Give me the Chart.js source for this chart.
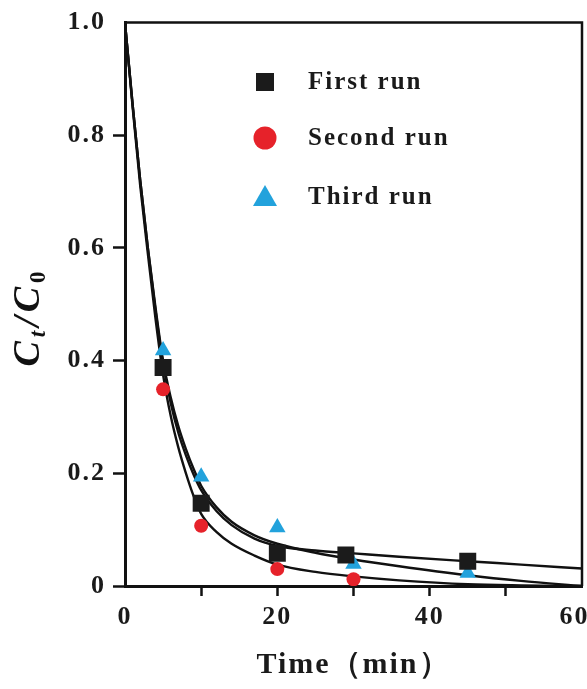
<!DOCTYPE html>
<html>
<head>
<meta charset="utf-8">
<script src="https://cdn.jsdelivr.net/npm/chart.js@4.4.1/dist/chart.umd.min.js"></script>
<style>
  html, body { margin: 0; padding: 0; background: #fff; }
  #wrap { width: 587px; height: 689px; }
</style>
</head>
<body>
<div id="wrap"><canvas id="c" width="587" height="689"></canvas></div>
<script>
// measured points (time in min, Ct/C0)
const timeFirst = [5, 10, 20, 29, 45];
const valFirst = [0.388, 0.147, 0.058, 0.055, 0.044];
const timeSecond = [5, 10, 20, 30];
const valSecond = [0.349, 0.107, 0.030, 0.012];
const timeThird = [5, 10, 20, 30, 45];
const valThird = [0.418, 0.194, 0.104, 0.039, 0.023];

// fitted curves
const fitTime = [0, 1, 2, 3, 4, 5, 6, 7, 8, 9, 10, 12, 14, 17, 20, 25, 30, 36, 45, 52, 60];
const fitFirst = [1, 0.855, 0.72, 0.60, 0.49, 0.395, 0.325, 0.272, 0.232, 0.198, 0.17, 0.133, 0.108, 0.084, 0.071, 0.063, 0.058, 0.052, 0.044, 0.038, 0.031];
const fitSecond = [1, 0.85, 0.71, 0.59, 0.475, 0.375, 0.302, 0.246, 0.2, 0.16, 0.128, 0.096, 0.075, 0.054, 0.038, 0.025, 0.017, 0.010, 0.003, 0.001, 0];
const fitThird = [1, 0.855, 0.72, 0.60, 0.495, 0.40, 0.335, 0.284, 0.243, 0.208, 0.178, 0.14, 0.114, 0.090, 0.075, 0.059, 0.047, 0.035, 0.019, 0.009, 0];

const xTicks = [0, 10, 20, 30, 40, 50, 60];
const xLabels = ['0', '', '20', '', '40', '', '60\u2002'];
const yLabels = ['0', '0.2', '0.4', '0.6', '0.8', '1.0'];

const serif = '"Liberation Serif", "Times New Roman", serif';

function pts (xs, ys) {
  return xs.map((x, i) => ({ x: x, y: ys[i] }));
}

function fitLine (data) {
  return {
    type: 'line',
    data: data,
    showLine: true,
    borderColor: '#111',
    borderWidth: 2.4,
    pointRadius: 0,
    fill: false,
    cubicInterpolationMode: 'monotone'
  };
}

// wider letter spacing like the scanned figure
const spacing = {
  id: 'spacing',
  beforeLayout (chart) { chart.ctx.letterSpacing = '2px'; },
  beforeDraw (chart) { chart.ctx.letterSpacing = '2px'; }
};

// top/right frame, y title with subscripts, legend in plot
const extras = {
  id: 'extras',
  afterDraw (chart) {
    const ctx = chart.ctx;
    const a = chart.chartArea;
    ctx.save();
    ctx.strokeStyle = '#111';
    ctx.lineWidth = 2.5;
    ctx.beginPath();
    ctx.moveTo(a.left, a.top);
    ctx.lineTo(a.right, a.top);
    ctx.lineTo(a.right, a.bottom);
    ctx.stroke();

    // y title  Ct/C0
    ctx.fillStyle = '#111';
    ctx.letterSpacing = '1px';
    const parts = [
      { t: 'C', f: 'italic bold 38px ' + serif, dy: 0 },
      { t: 't', f: 'italic bold 23px ' + serif, dy: 6 },
      { t: '/', f: 'italic bold 38px ' + serif, dy: 0 },
      { t: 'C', f: 'italic bold 38px ' + serif, dy: 0 },
      { t: '0', f: 'bold 23px ' + serif, dy: 6 }
    ];
    let w = 0;
    parts.forEach(p => { ctx.font = p.f; p.w = ctx.measureText(p.t).width + 3; w += p.w; });
    ctx.translate(39, 317);
    ctx.rotate(-Math.PI / 2);
    ctx.textBaseline = 'alphabetic';
    let x = -w / 2;
    parts.forEach(p => { ctx.font = p.f; ctx.fillText(p.t, x, p.dy); x += p.w; });
    ctx.restore();

    // legend
    ctx.save();
    ctx.letterSpacing = '2px';
    ctx.font = 'bold 25px ' + serif;
    ctx.textBaseline = 'middle';
    const rows = [82, 138, 197];
    chart.data.datasets.forEach((ds, i) => {
      if (!ds.label) return;
      const y = rows[i];
      const cx = 265;
      ctx.fillStyle = ds.backgroundColor;
      ctx.beginPath();
      if (ds.pointStyle === 'rect') {
        ctx.rect(cx - 9, y - 9, 18, 18);
      } else if (ds.pointStyle === 'circle') {
        ctx.arc(cx, y, 11.5, 0, Math.PI * 2);
      } else {
        ctx.moveTo(cx, y - 12);
        ctx.lineTo(cx + 12, y + 9);
        ctx.lineTo(cx - 12, y + 9);
        ctx.closePath();
      }
      ctx.fill();
      ctx.fillStyle = '#1a1a1a';
      ctx.fillText(ds.label, 308, y + 1);
    });
    ctx.restore();
  }
};

const chart = new Chart(document.getElementById('c'), {
  type: 'scatter',
  data: {
    datasets: [
      {
        label: 'First run',
        data: pts(timeFirst, valFirst),
        pointStyle: 'rect',
        pointRadius: 12,
        backgroundColor: '#1b1b1b',
        borderWidth: 0
      },
      {
        label: 'Second run',
        data: pts(timeSecond, valSecond),
        pointStyle: 'circle',
        pointRadius: 7,
        backgroundColor: '#e6222a',
        borderWidth: 0
      },
      {
        label: 'Third run',
        data: pts(timeThird, valThird),
        pointStyle: 'triangle',
        pointRadius: 9.5,
        backgroundColor: '#22a2dc',
        borderWidth: 0
      },
      fitLine(pts(fitTime, fitFirst)),
      fitLine(pts(fitTime, fitSecond)),
      fitLine(pts(fitTime, fitThird))
    ]
  },
  options: {
    responsive: false,
    animation: false,
    layout: { autoPadding: false, padding: { top: 16, right: 5, left: 0, bottom: 0 } },
    plugins: {
      legend: { display: false },
      tooltip: { enabled: false }
    },
    scales: {
      x: {
        type: 'linear',
        min: 0,
        max: 60,
        afterBuildTicks: scale => { scale.ticks = xTicks.map(v => ({ value: v })); },
        afterFit: scale => {
          scale.height = 103;
          scale.paddingLeft = 0;
          scale.paddingRight = 0;
        },
        border: { display: true, color: '#111', width: 3 },
        grid: {
          drawOnChartArea: false,
          drawTicks: true,
          tickLength: 10,
          tickWidth: 2.5,
          tickColor: ctx => (ctx.tick && (ctx.tick.value === 0 || ctx.tick.value === 60)) ? 'rgba(0,0,0,0)' : '#111'
        },
        ticks: {
          padding: 6,
          maxRotation: 0,
          autoSkip: false,
          color: '#1a1a1a',
          font: { family: serif, size: 26, weight: 'bold' },
          callback: (v, i) => xLabels[xTicks.indexOf(v)]
        },
        title: {
          display: true,
          text: 'Time（min）',
          color: '#1a1a1a',
          font: { family: serif, size: 30, weight: 'bold' },
          padding: { top: 2, bottom: 6 }
        }
      },
      y: {
        min: 0,
        max: 1,
        afterBuildTicks: scale => { scale.ticks = [0, 0.2, 0.4, 0.6, 0.8, 1].map(v => ({ value: v })); },
        afterFit: scale => { scale.width = 125; },
        border: { display: true, color: '#111', width: 3 },
        grid: {
          drawOnChartArea: false,
          drawTicks: true,
          tickLength: 12,
          tickWidth: 2.5,
          tickColor: ctx => (ctx.tick && ctx.tick.value === 1) ? 'rgba(0,0,0,0)' : '#111'
        },
        ticks: {
          padding: 7,
          color: '#1a1a1a',
          font: { family: serif, size: 26, weight: 'bold' },
          callback: (v, i) => yLabels[Math.round(v * 5)]
        }
      }
    }
  },
  plugins: [spacing, extras]
});
</script>
</body>
</html>
